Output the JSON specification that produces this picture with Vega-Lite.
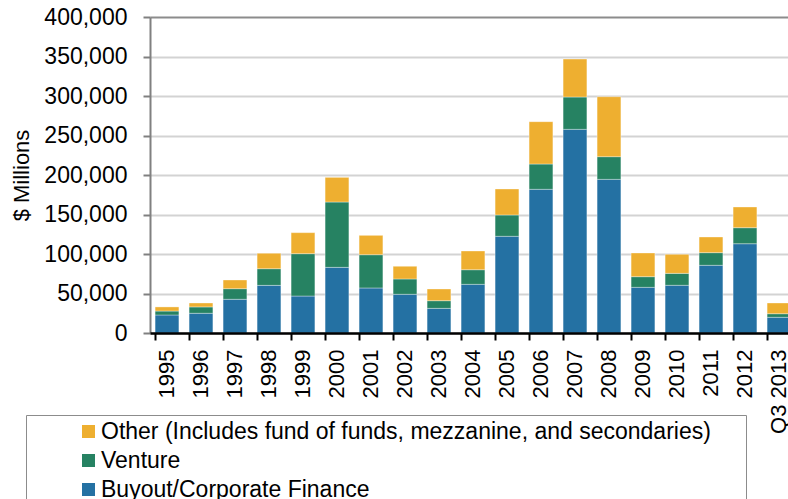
{
  "$schema": "https://vega.github.io/schema/vega-lite/v6.json",
  "width": 646,
  "height": 316,
  "autosize": {"type": "none"},
  "padding": {"left": 150, "top": 17, "right": 0, "bottom": 166},
  "background": "white",
  "config": {"view": {"stroke": null}, "font": "Liberation Sans"},
  "data": {"values": [
    {"period": "1995", "type": "Buyout/Corporate Finance", "value": 22800},
    {"period": "1995", "type": "Venture", "value": 5000},
    {"period": "1995", "type": "Other (Includes fund of funds, mezzanine, and secondaries)", "value": 5200},
    {"period": "1996", "type": "Buyout/Corporate Finance", "value": 25000},
    {"period": "1996", "type": "Venture", "value": 8000},
    {"period": "1996", "type": "Other (Includes fund of funds, mezzanine, and secondaries)", "value": 5000},
    {"period": "1997", "type": "Buyout/Corporate Finance", "value": 42700},
    {"period": "1997", "type": "Venture", "value": 13400},
    {"period": "1997", "type": "Other (Includes fund of funds, mezzanine, and secondaries)", "value": 11000},
    {"period": "1998", "type": "Buyout/Corporate Finance", "value": 60300},
    {"period": "1998", "type": "Venture", "value": 21100},
    {"period": "1998", "type": "Other (Includes fund of funds, mezzanine, and secondaries)", "value": 19500},
    {"period": "1999", "type": "Buyout/Corporate Finance", "value": 46800},
    {"period": "1999", "type": "Venture", "value": 53600},
    {"period": "1999", "type": "Other (Includes fund of funds, mezzanine, and secondaries)", "value": 26600},
    {"period": "2000", "type": "Buyout/Corporate Finance", "value": 83100},
    {"period": "2000", "type": "Venture", "value": 82700},
    {"period": "2000", "type": "Other (Includes fund of funds, mezzanine, and secondaries)", "value": 31200},
    {"period": "2001", "type": "Buyout/Corporate Finance", "value": 57000},
    {"period": "2001", "type": "Venture", "value": 42100},
    {"period": "2001", "type": "Other (Includes fund of funds, mezzanine, and secondaries)", "value": 24500},
    {"period": "2002", "type": "Buyout/Corporate Finance", "value": 49000},
    {"period": "2002", "type": "Venture", "value": 19400},
    {"period": "2002", "type": "Other (Includes fund of funds, mezzanine, and secondaries)", "value": 16000},
    {"period": "2003", "type": "Buyout/Corporate Finance", "value": 31200},
    {"period": "2003", "type": "Venture", "value": 9700},
    {"period": "2003", "type": "Other (Includes fund of funds, mezzanine, and secondaries)", "value": 14800},
    {"period": "2004", "type": "Buyout/Corporate Finance", "value": 61600},
    {"period": "2004", "type": "Venture", "value": 18500},
    {"period": "2004", "type": "Other (Includes fund of funds, mezzanine, and secondaries)", "value": 23700},
    {"period": "2005", "type": "Buyout/Corporate Finance", "value": 122400},
    {"period": "2005", "type": "Venture", "value": 27000},
    {"period": "2005", "type": "Other (Includes fund of funds, mezzanine, and secondaries)", "value": 32900},
    {"period": "2006", "type": "Buyout/Corporate Finance", "value": 181900},
    {"period": "2006", "type": "Venture", "value": 32000},
    {"period": "2006", "type": "Other (Includes fund of funds, mezzanine, and secondaries)", "value": 53600},
    {"period": "2007", "type": "Buyout/Corporate Finance", "value": 257800},
    {"period": "2007", "type": "Venture", "value": 40900},
    {"period": "2007", "type": "Other (Includes fund of funds, mezzanine, and secondaries)", "value": 48100},
    {"period": "2008", "type": "Buyout/Corporate Finance", "value": 194500},
    {"period": "2008", "type": "Venture", "value": 28700},
    {"period": "2008", "type": "Other (Includes fund of funds, mezzanine, and secondaries)", "value": 75900},
    {"period": "2009", "type": "Buyout/Corporate Finance", "value": 57800},
    {"period": "2009", "type": "Venture", "value": 13500},
    {"period": "2009", "type": "Other (Includes fund of funds, mezzanine, and secondaries)", "value": 30000},
    {"period": "2010", "type": "Buyout/Corporate Finance", "value": 60400},
    {"period": "2010", "type": "Venture", "value": 15100},
    {"period": "2010", "type": "Other (Includes fund of funds, mezzanine, and secondaries)", "value": 24100},
    {"period": "2011", "type": "Buyout/Corporate Finance", "value": 85700},
    {"period": "2011", "type": "Venture", "value": 16000},
    {"period": "2011", "type": "Other (Includes fund of funds, mezzanine, and secondaries)", "value": 19800},
    {"period": "2012", "type": "Buyout/Corporate Finance", "value": 113000},
    {"period": "2012", "type": "Venture", "value": 20300},
    {"period": "2012", "type": "Other (Includes fund of funds, mezzanine, and secondaries)", "value": 26200},
    {"period": "Q3 2013", "type": "Buyout/Corporate Finance", "value": 19900},
    {"period": "Q3 2013", "type": "Venture", "value": 4500},
    {"period": "Q3 2013", "type": "Other (Includes fund of funds, mezzanine, and secondaries)", "value": 13600}
  ]},
  "transform": [
    {"calculate": "indexof(['Buyout/Corporate Finance','Venture','Other (Includes fund of funds, mezzanine, and secondaries)'], datum.type)", "as": "stackOrder"}
  ],
  "mark": {"type": "bar", "stroke": "#ffffff", "strokeOpacity": 0.35, "strokeWidth": 1},
  "encoding": {
    "x": {
      "field": "period", "type": "nominal", "sort": null,
      "scale": {"paddingInner": 0.3, "paddingOuter": 0.15},
      "axis": {
        "title": null, "labelAngle": 270, "labelAlign": "right", "labelBaseline": "middle",
        "labelFontSize": 22, "labelColor": "#000000", "labelPadding": 9,
        "bandPosition": 0, "domainColor": "#000000", "domainWidth": 2.5,
        "tickColor": "#000000", "tickWidth": 2, "tickSize": 7, "grid": false, "zindex": 1
      }
    },
    "y": {
      "field": "value", "type": "quantitative", "stack": "zero",
      "scale": {"domain": [0, 400000], "nice": false},
      "axis": {
        "title": "$ Millions", "titleFontSize": 22, "titleFontWeight": "normal", "titleColor": "#000000", "titlePadding": 10,
        "values": [0, 50000, 100000, 150000, 200000, 250000, 300000, 350000, 400000],
        "format": ",d", "labelFontSize": 23, "labelColor": "#000000", "labelPadding": 16,
        "domainColor": "#808080", "domainWidth": 2, "tickColor": "#808080", "tickWidth": 2, "tickSize": 7,
        "gridColor": {"condition": {"test": "datum.value === 400000", "value": "#8c8c8c"}, "value": "#d3d3d3"},
        "gridWidth": 2
      }
    },
    "color": {
      "field": "type", "type": "nominal",
      "scale": {
        "domain": ["Other (Includes fund of funds, mezzanine, and secondaries)", "Venture", "Buyout/Corporate Finance"],
        "range": ["#EEAF30", "#268262", "#2471A3"]
      },
      "legend": {
        "orient": "none", "legendX": -124, "legendY": 398, "direction": "vertical",
        "title": "\u00a0\u00a0", "titleOrient": "right", "titlePadding": 30, "titleFontSize": 10,
        "symbolType": "square", "symbolSize": 170, "symbolStrokeWidth": 0, "symbolOffset": 46,
        "labelFontSize": 23, "labelColor": "#000000", "labelOffset": 1, "labelLimit": 900,
        "rowPadding": 5, "padding": 5, "strokeColor": "#8c8c8c"
      }
    },
    "order": {"field": "stackOrder", "type": "quantitative", "sort": "ascending"}
  }
}
